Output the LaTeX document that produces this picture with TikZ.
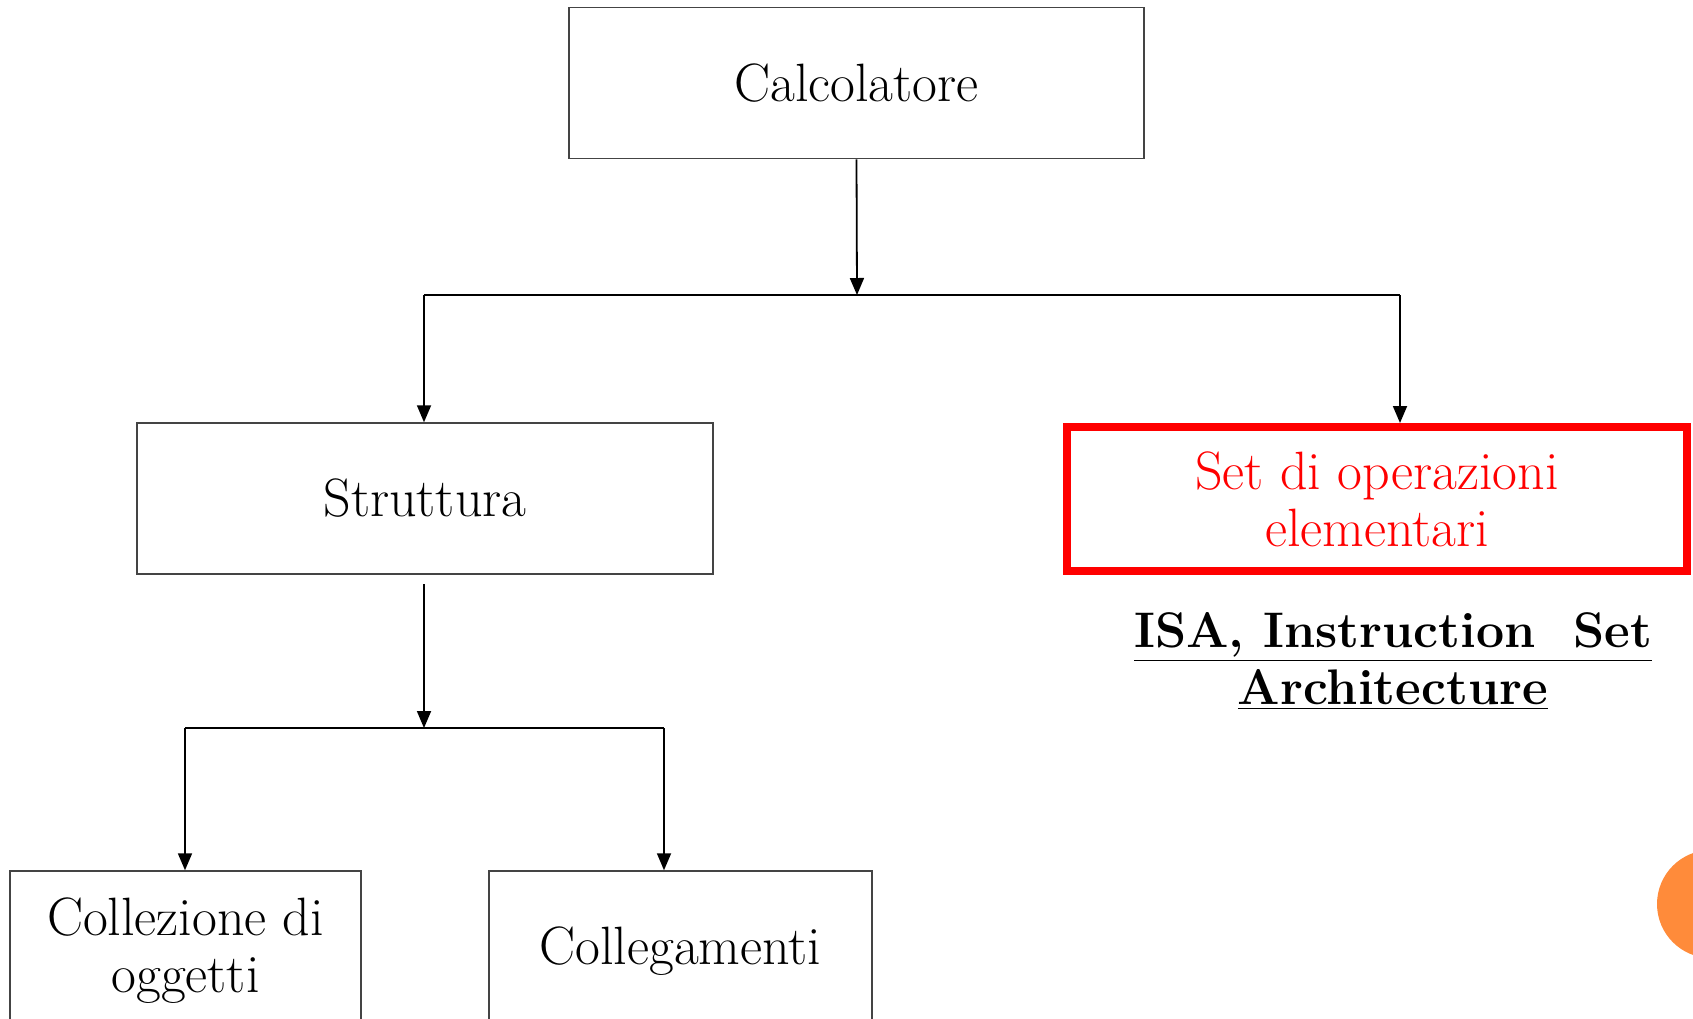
\documentclass[tikz,border=0pt]{standalone}
\usetikzlibrary{arrows.meta}
\definecolor{boxgray}{HTML}{444444}
\definecolor{dotorange}{HTML}{FF8B3A}
\begin{document}
\begin{tikzpicture}[x=0.5pt,y=-0.5pt,
  box/.style={draw=boxgray,line width=0.75pt,rectangle,align=center,inner sep=0pt,font=\fontsize{27}{28.6}\selectfont},
  redbox/.style={draw=red,line width=4pt,rectangle,align=center,inner sep=0pt,text=red,font=\fontsize{27}{28.6}\selectfont},
  conn/.style={line width=0.9pt,black},
  arr/.style={conn,-{Triangle[length=8.5pt,width=7pt]}}]
\useasboundingbox (0,0) rectangle (1693,1018);
\clip (0,0) rectangle (1693,1018);
\node[box,minimum width=287.5pt,minimum height=75.5pt] (calc) at (856.5,83) {Calcolatore};
\node[box,minimum width=288pt,minimum height=75.5pt] (str) at (425,498.5) {Struttura};
\node[redbox,minimum width=310pt,minimum height=72pt] (isa) at (1377,499) {Set di operazioni\\elementari};
\node[align=center,font=\bfseries\fontsize{25}{28.6}\selectfont] (isatxt) at (1393,661) {\underline{ISA, Instruction\ \ Set}\\\underline{Architecture}};
\node[box,minimum width=175.5pt,minimum height=80pt] (coll) at (185.5,951) {Collezione di\\oggetti};
\node[box,minimum width=191.5pt,minimum height=80pt] (cgm) at (680.5,951) {Collegamenti};
\fill[dotorange] (1711,904) circle (27pt);
\coordinate (j1) at (857,295);
\coordinate (j1l) at (424,295);
\coordinate (j1r) at (1400,295);
\coordinate (s1) at (424,584);
\coordinate (j2) at (424,728);
\coordinate (j2l) at (185,728);
\coordinate (j2r) at (664,728);
\draw[arr] (calc.south) -- (j1);
\draw[conn] (j1l) -- (j1r);
\draw[arr] (j1l) -- (j1l |- str.north);
\draw[arr] (j1r) -- (j1r |- isa.north);
\draw[arr] (s1) -- (j2);
\draw[conn] (j2l) -- (j2r);
\draw[arr] (j2l) -- (j2l |- coll.north);
\draw[arr] (j2r) -- (j2r |- cgm.north);
\end{tikzpicture}
\end{document}
